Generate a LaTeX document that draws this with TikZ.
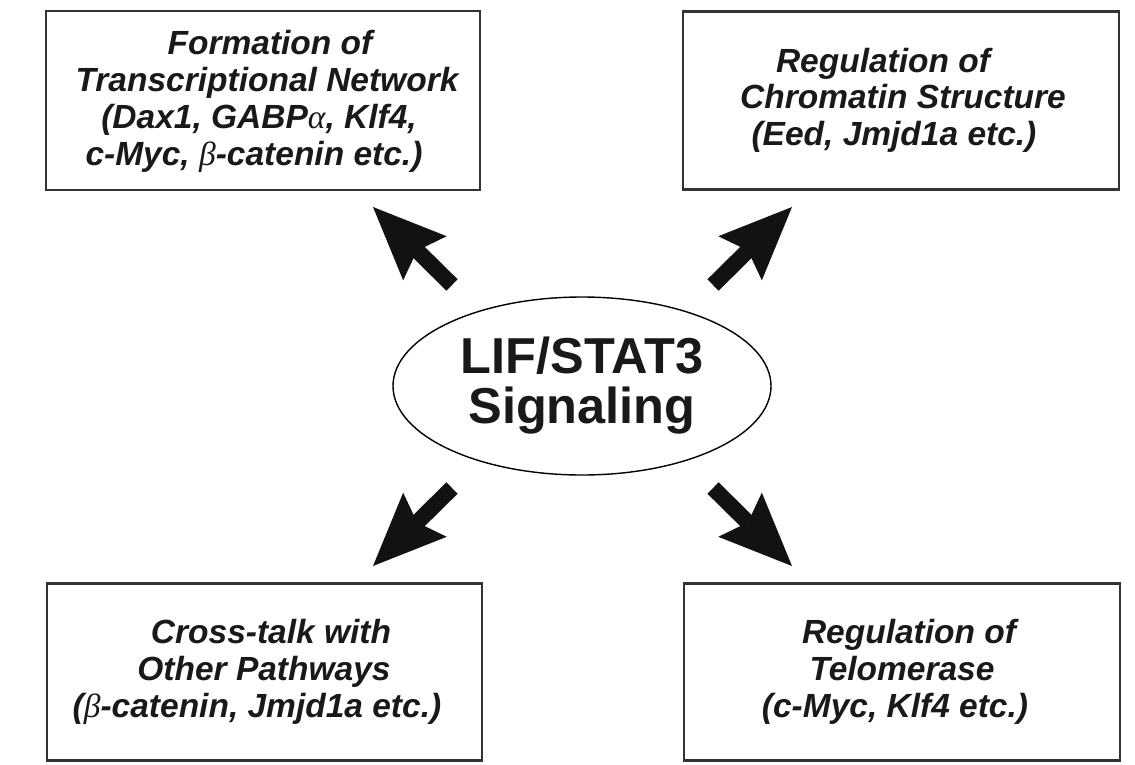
\documentclass[tikz,border=0pt]{standalone}
\usepackage{fontspec}
\setmainfont{Liberation Sans}
\newfontfamily\grk{Liberation Serif}
\usetikzlibrary{arrows.meta,shapes.geometric}
\newcommand{\ga}{{\grk\itshape\mdseries α}}
\newcommand{\gb}{{\grk\itshape\mdseries β}}
\begin{document}
\begin{tikzpicture}[x=1pt,y=-1pt,
  box/.style={draw=black!80, line width=2.4pt, rectangle, inner sep=0pt},
  boxtxt/.style={anchor=base, inner sep=0pt, text=black!90,
    font=\fontsize{33.5}{37}\selectfont\bfseries\itshape},
  centertxt/.style={anchor=base, inner sep=0pt, text=black!90,
    font=\fontsize{50.5}{50}\selectfont\bfseries},
  bigarrow/.style={line width=16pt, draw=black!93,
    -{Stealth[length=73pt, width=62pt, inset=11pt, line width'=0pt]}}
]
\useasboundingbox (0,0) rectangle (1135,764);
\fill[white] (0,0) rectangle (1135,764);

% boxes
\node[box, minimum width=434pt, minimum height=179pt] (tl) at (263,100.5) {};
\node[box, minimum width=436pt, minimum height=178pt] (tr) at (901,100.5) {};
\node[box, minimum width=435pt, minimum height=177pt] (bl) at (264.5,672) {};
\node[box, minimum width=436pt, minimum height=177pt] (br) at (902,672) {};

% central ellipse
\node[ellipse, draw=black, line width=1.4pt, minimum width=378pt, minimum height=178pt, inner sep=0pt] (ell) at (582,386) {};
\node[centertxt] (ell1) at (582,373) {LIF/STAT3};
\node[centertxt] (ell2) at (582,423) {Signaling};

% top-left text
\node[boxtxt] (tl1) at (270,54) {Formation of};
\node[boxtxt] (tl2) at (267,91) {Transcriptional Network};
\node[boxtxt] (tl3) at (259,128) {(Dax1, GABP\ga, Klf4,};
\node[boxtxt] (tl4) at (254,165) {c-Myc, \gb-catenin etc.)};

% top-right text
\node[boxtxt] (tr1) at (883,72) {Regulation of};
\node[boxtxt] (tr2) at (903,108.5) {Chromatin Structure};
\node[boxtxt] (tr3) at (894,145) {(Eed, Jmjd1a etc.)};

% bottom-left text
\node[boxtxt] (bl1) at (271,643) {Cross-talk with};
\node[boxtxt] (bl2) at (264,680) {Other Pathways};
\node[boxtxt] (bl3) at (257,717) {(\gb-catenin, Jmjd1a etc.)};

% bottom-right text
\node[boxtxt] (br1) at (909,643) {Regulation of};
\node[boxtxt] (br2) at (902,680) {Telomerase};
\node[boxtxt] (br3) at (895,717) {(c-Myc, Klf4 etc.)};

% arrow end points
\coordinate (a1s) at (452,285); \coordinate (a1e) at (373,207);
\coordinate (a2s) at (713,285); \coordinate (a2e) at (792,207);
\coordinate (a3s) at (452,488); \coordinate (a3e) at (373,566);
\coordinate (a4s) at (713,488); \coordinate (a4e) at (792,566);

\draw[bigarrow] (a1s) -- (a1e);
\draw[bigarrow] (a2s) -- (a2e);
\draw[bigarrow] (a3s) -- (a3e);
\draw[bigarrow] (a4s) -- (a4e);
\end{tikzpicture}
\end{document}
